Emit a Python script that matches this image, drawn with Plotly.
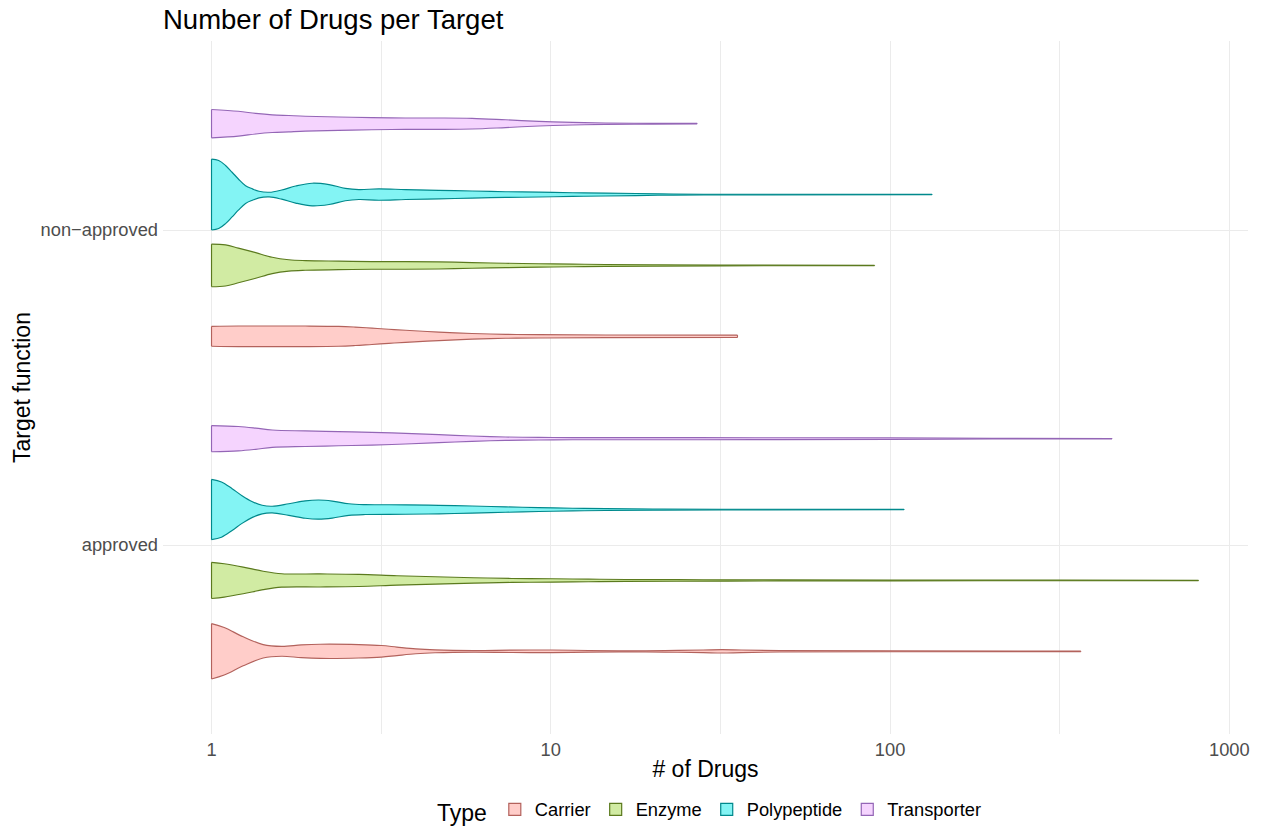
import plotly.graph_objects as go

# ---- categories -------------------------------------------------------------
types = ["Carrier", "Enzyme", "Polypeptide", "Transporter"]
functions = ["approved", "non\u2212approved"]

# ---- violin profiles: number of drugs and scaled density (max = 1) ----------
# approved
approved_carrier_n = [1, 1.09, 1.24, 1.42, 1.61, 1.84, 2.09, 2.72, 3.17, 3.52, 4.0, 4.56,
                      5.92, 7.67, 10.1, 12.9, 16.7, 21.7, 28.1, 32, 36.4, 47.2, 100, 365]
approved_carrier_d = [0.78, 0.67, 0.41, 0.19, 0.14, 0.18, 0.20, 0.19, 0.164, 0.12, 0.07, 0.042,
                      0.023, 0.034, 0.037, 0.023, 0.014, 0.023, 0.037, 0.048, 0.037, 0.02, 0.011, 0.008]

approved_enzyme_n = [1, 1.09, 1.24, 1.42, 1.61, 2.09, 2.72, 3.52, 4.56, 5.92, 7.67, 10.1,
                     12.9, 16.7, 28.1, 47.2, 100, 316, 811]
approved_enzyme_d = [0.51, 0.47, 0.376, 0.26, 0.19, 0.184, 0.17, 0.133, 0.105, 0.076, 0.056, 0.048,
                     0.037, 0.028, 0.02, 0.014, 0.011, 0.008, 0.006]

approved_polypeptide_n = [1, 1.07, 1.15, 1.23, 1.32, 1.41, 1.51, 1.69, 1.89, 2.07, 2.27, 2.54,
                          2.84, 3.73, 4.68, 5.86, 7.36, 9.23, 11.6, 14.5, 20, 31.6, 110]
approved_polypeptide_d = [0.85, 0.78, 0.59, 0.39, 0.22, 0.12, 0.093, 0.164, 0.246, 0.27, 0.24, 0.164,
                          0.14, 0.133, 0.12, 0.10, 0.076, 0.056, 0.037, 0.028, 0.017, 0.008, 0.006]

approved_transporter_n = [1, 1.2, 1.35, 1.51, 1.89, 2.37, 2.97, 3.73, 4.68, 5.86, 7.36, 9.23,
                          11.6, 14.5, 39.8, 100, 200, 451]
approved_transporter_d = [0.37, 0.345, 0.30, 0.245, 0.22, 0.20, 0.18, 0.15, 0.113, 0.076, 0.048, 0.037,
                          0.03, 0.03, 0.028, 0.022, 0.009, 0.006]

# non-approved
nonapproved_carrier_n = [1, 1.2, 1.51, 1.89, 2.37, 2.65, 2.97, 3.33, 3.73, 4.68, 5.86, 7.36,
                         9.23, 14.5, 35.5]
nonapproved_carrier_d = [0.28, 0.29, 0.29, 0.29, 0.28, 0.26, 0.23, 0.20, 0.17, 0.12, 0.08, 0.056,
                         0.048, 0.037, 0.034]

nonapproved_enzyme_n = [1, 1.1, 1.2, 1.35, 1.51, 1.69, 1.89, 2.37, 2.97, 3.73, 4.68, 5.86,
                        7.36, 9.23, 11.6, 14.5, 20, 31.6, 90]
nonapproved_enzyme_d = [0.60, 0.58, 0.49, 0.36, 0.23, 0.16, 0.136, 0.12, 0.107, 0.107, 0.10, 0.08,
                        0.062, 0.048, 0.037, 0.028, 0.02, 0.011, 0.006]

nonapproved_polypeptide_n = [1, 1.05, 1.10, 1.15, 1.20, 1.26, 1.32, 1.38, 1.48, 1.61, 1.77, 1.98,
                             2.22, 2.48, 2.72, 3.11, 3.73, 4.68, 5.86, 7.36, 9.23, 11.6, 14.5,
                             20.7, 28.2, 133]
nonapproved_polypeptide_d = [1.0, 0.96, 0.82, 0.63, 0.44, 0.25, 0.16, 0.093, 0.065, 0.13, 0.24, 0.32,
                             0.28, 0.175, 0.14, 0.16, 0.14, 0.12, 0.10, 0.08, 0.07, 0.05, 0.042,
                             0.02, 0.008, 0.006]

nonapproved_transporter_n = [1, 1.2, 1.35, 1.51, 1.69, 1.89, 2.37, 2.97, 3.73, 4.68, 5.86, 7.36,
                             9.23, 11.6, 14.5, 20, 27]
nonapproved_transporter_d = [0.40, 0.35, 0.29, 0.25, 0.23, 0.21, 0.19, 0.17, 0.16, 0.16, 0.15, 0.11,
                             0.065, 0.037, 0.02, 0.011, 0.008]

profiles = {
    ("approved", "Carrier"): (approved_carrier_n, approved_carrier_d),
    ("approved", "Enzyme"): (approved_enzyme_n, approved_enzyme_d),
    ("approved", "Polypeptide"): (approved_polypeptide_n, approved_polypeptide_d),
    ("approved", "Transporter"): (approved_transporter_n, approved_transporter_d),
    ("non\u2212approved", "Carrier"): (nonapproved_carrier_n, nonapproved_carrier_d),
    ("non\u2212approved", "Enzyme"): (nonapproved_enzyme_n, nonapproved_enzyme_d),
    ("non\u2212approved", "Polypeptide"): (nonapproved_polypeptide_n, nonapproved_polypeptide_d),
    ("non\u2212approved", "Transporter"): (nonapproved_transporter_n, nonapproved_transporter_d),
}

# ---- styling ----------------------------------------------------------------
fills = {"Carrier": "#FFCDC9", "Enzyme": "#D1EBA3", "Polypeptide": "#83F4F4", "Transporter": "#F5D4FE"}
lines = {"Carrier": "#B3625C", "Enzyme": "#5B7A1E", "Polypeptide": "#00898C", "Transporter": "#9466B6"}
outline_w = 1.15

dodge_width = 0.9
slot = dodge_width / len(types)          # width available to each violin
half_max = slot / 2                      # half-width of the widest violin

fig = go.Figure()

for fi, func in enumerate(functions):
    base = fi + 1
    for ti, t in enumerate(types):
        centre = base - dodge_width / 2 + slot * (ti + 0.5)
        n, d = profiles[(func, t)]
        upper = [centre + half_max * v for v in d]
        lower = [centre - half_max * v for v in d]
        line_style = dict(color=lines[t], width=outline_w, shape="spline", smoothing=1.0)
        # lower outline, then upper outline filled down to it
        fig.add_trace(go.Scatter(
            x=n, y=lower, mode="lines", line=line_style,
            legendgroup=t, showlegend=False, hoverinfo="skip",
        ))
        fig.add_trace(go.Scatter(
            x=n, y=upper, mode="lines", line=line_style,
            fill="tonexty", fillcolor=fills[t],
            legendgroup=t, showlegend=False, hoverinfo="skip",
        ))
        # trimmed ends at the minimum and maximum
        fig.add_trace(go.Scatter(
            x=[n[0], n[0], None, n[-1], n[-1]],
            y=[lower[0], upper[0], None, lower[-1], upper[-1]],
            mode="lines", line=dict(color=lines[t], width=outline_w),
            legendgroup=t, showlegend=False, hoverinfo="skip",
        ))

# legend keys
for t in types:
    fig.add_trace(go.Bar(
        x=[None], y=[None], name=t, legendgroup=t,
        marker=dict(color=fills[t], line=dict(color=lines[t], width=1.2)),
    ))

x_ticks = [1, 10, 100, 1000]
x_minor = [3.1623, 31.623, 316.23]

fig.update_layout(
    width=1263, height=826,
    margin=dict(l=163, r=15, t=41, b=92, autoexpand=False),
    paper_bgcolor="white", plot_bgcolor="white",
    font=dict(family="Liberation Sans, Arial, sans-serif", color="black"),
    title=dict(text="Number of Drugs per Target", xref="container", x=163 / 1263, xanchor="left",
               yref="container", y=1 - 19 / 826, yanchor="middle",
               font=dict(size=27.5, color="black")),
    xaxis=dict(type="log", range=[-0.143, 3.055],
               tickmode="array", tickvals=x_ticks, ticktext=[str(v) for v in x_ticks],
               showgrid=True, gridcolor="#EBEBEB", gridwidth=1.3,
               minor=dict(tickvals=x_minor, showgrid=True, gridcolor="#EBEBEB", gridwidth=0.9),
               zeroline=False, showline=False, ticks="",
               tickfont=dict(size=18.3, color="#4D4D4D"), ticklabelstandoff=3,
               title=dict(text="# of Drugs", font=dict(size=23, color="black"), standoff=1)),
    yaxis=dict(range=[0.4, 2.6], tickmode="array", tickvals=[1, 2], ticktext=functions,
               showgrid=True, gridcolor="#EBEBEB", gridwidth=1.3,
               zeroline=False, showline=False, ticks="",
               tickfont=dict(size=18.3, color="#4D4D4D"), ticklabelstandoff=4,
               title=dict(text="Target function", font=dict(size=23, color="black"), standoff=3)),
    legend=dict(orientation="h", x=0.505, xanchor="center", y=-0.111, yanchor="middle",
                title=dict(text="Type", font=dict(size=23, color="black")),
                font=dict(size=18.3, color="black"), bgcolor="rgba(0,0,0,0)"),
    showlegend=True,
)

fig.write_html("out.html")
